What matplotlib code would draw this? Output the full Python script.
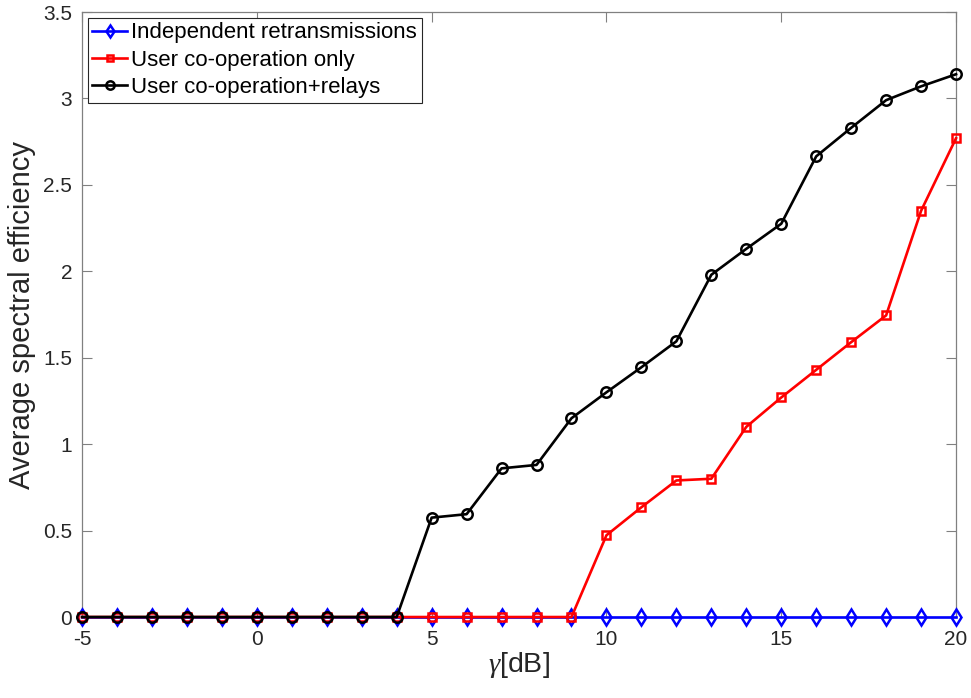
import numpy as np
import matplotlib
matplotlib.use('Agg')
import matplotlib.pyplot as plt

plt.rcParams['font.family'] = ['Liberation Sans', 'DejaVu Sans']
plt.rcParams['mathtext.fontset'] = 'custom'
plt.rcParams['mathtext.it'] = 'Liberation Serif:italic'

# DATA
gamma_db = list(range(-5, 21))
independent = [0.0] * 26
coop_only = [0.0] * 15 + [0.473, 0.635, 0.79, 0.80, 1.10, 1.27, 1.43, 1.59, 1.745, 2.35, 2.77]
coop_relays = [0.0] * 10 + [0.575, 0.595, 0.86, 0.88, 1.15, 1.30, 1.445, 1.595,
                            1.98, 2.13, 2.275, 2.665, 2.83, 2.99, 3.07, 3.14]

fig = plt.figure(figsize=(9.71, 6.98), dpi=100)
ax = fig.add_axes([0.0845, 0.116, 0.9001, 0.8668])

ax.plot(gamma_db, independent, color='blue', lw=1.9, marker='d', ms=8,
        mfc='none', mew=1.8, label='Independent retransmissions', clip_on=False, zorder=3)
ax.plot(gamma_db, coop_only, color='red', lw=1.9, marker='s', ms=6,
        mfc='none', mew=1.8, label='User co-operation only', clip_on=False, zorder=4)
ax.plot(gamma_db, coop_relays, color='black', lw=1.9, marker='o', ms=7.5,
        mfc='none', mew=1.8, label='User co-operation+relays', clip_on=False, zorder=5)

ax.set_xlim(-5, 20)
ax.set_ylim(0, 3.5)
ax.set_xticks([-5, 0, 5, 10, 15, 20])
ax.set_xticklabels(['-5', '0', '5', '10', '15', '20'])
ax.set_yticks(np.arange(0, 3.51, 0.5))
ax.set_yticklabels(['0', '0.5', '1', '1.5', '2', '2.5', '3', '3.5'])
ax.tick_params(direction='in', labelsize=15, top=True, right=True, length=7,
               color='#808080', labelcolor='#262626', width=0.8)
ax.tick_params(axis='x', pad=9)
ax.tick_params(axis='y', pad=7)
for s in ax.spines.values():
    s.set_color('#808080')
    s.set_linewidth(0.9)

ax.set_xlabel(r'$\gamma$[dB]', fontsize=20.5, labelpad=1, color='#262626')
ax.set_ylabel('Average spectral efficiency', fontsize=21, labelpad=5, color='#262626')

leg = ax.legend(loc='upper left', fontsize=16, fancybox=False, framealpha=1,
                edgecolor='#262626', handlelength=1.55, handletextpad=0.2,
                borderaxespad=0.25, borderpad=0.22, labelspacing=0.28, markerscale=0.8)
leg.get_frame().set_linewidth(0.8)

fig.savefig('out.png', dpi=100)
